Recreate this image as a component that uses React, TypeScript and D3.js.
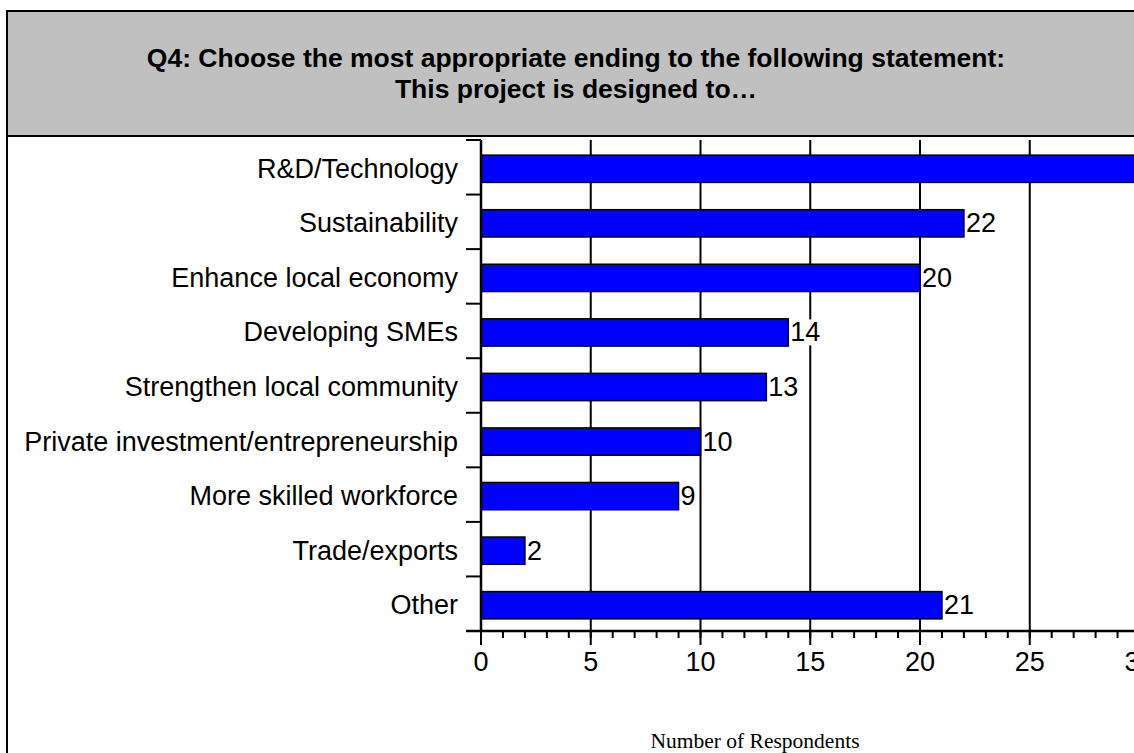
import React from "react";
import * as d3 from "d3";

const titleLines = [
  "Q4: Choose the most appropriate ending to the following statement:",
  "This project is designed to…",
];
const categories = [
  "R&D/Technology",
  "Sustainability",
  "Enhance local economy",
  "Developing SMEs",
  "Strengthen local community",
  "Private investment/entrepreneurship",
  "More skilled workforce",
  "Trade/exports",
  "Other",
];
const values = [31, 22, 20, 14, 13, 10, 9, 2, 21];
const majorTicks = [0, 5, 10, 15, 20, 25, 30];
const minorTicks = d3.range(0, 31, 1);
const xAxisTitle = "Number of Respondents";

const W = 1134;
const H = 753;
const SANS = "Arial, 'Liberation Sans', sans-serif";
const FS = 27;

export default function App() {
  const x = d3.scaleLinear().domain([0, 30]).range([481, 481 + 30 * 21.95]);
  const y = d3
    .scaleBand<string>()
    .domain(categories)
    .range([140, 631])
    .paddingInner(0.5)
    .paddingOuter(0.25);
  const step = y.step();
  const plotTop = 140;
  const plotBottom = 631;
  const boundaries = d3.range(0, categories.length + 1).map((i) => plotTop + i * step);
  const labelW = (v: number) => String(v).length * FS * 0.556 + 2;

  return (
    <svg
      width={W}
      height={H}
      style={{ position: "absolute", left: 0, top: 0, background: "#fff" }}
    >
      {/* header */}
      <rect x={7} y={11} width={1300} height={125} fill="#C0C0C0" />
      <line x1={7} x2={1300} y1={136} y2={136} stroke="#000" strokeWidth={2} />
      <rect x={7} y={11} width={1300} height={900} fill="none" stroke="#000" strokeWidth={2} />
      {titleLines.map((t, i) => (
        <text
          key={i}
          x={576}
          y={67 + i * 31}
          textAnchor="middle"
          fontFamily={SANS}
          fontWeight="bold"
          fontSize={26.5}
          fill="#000"
        >
          {t}
        </text>
      ))}

      {/* gridlines */}
      {majorTicks
        .filter((t) => t > 0)
        .map((t) => (
          <line
            key={"g" + t}
            x1={x(t)}
            x2={x(t)}
            y1={plotTop}
            y2={plotBottom}
            stroke="#000"
            strokeWidth={2}
          />
        ))}

      {/* bars */}
      {categories.map((c, i) => (
        <rect
          key={c}
          x={x(0)}
          y={(y(c) as number) + 1.5}
          width={x(values[i]) - x(0)}
          height={y.bandwidth()}
          fill="#0000FF"
          stroke="#000"
          strokeWidth={1.5}
        />
      ))}

      {/* value labels */}
      {categories.map((c, i) => {
        const cy = (y(c) as number) + 1.5 + y.bandwidth() / 2;
        return (
          <g key={"v" + c}>
            <rect
              x={x(values[i]) + 1.5}
              y={cy - 13}
              width={labelW(values[i])}
              height={26}
              fill="#fff"
            />
            <text
              x={x(values[i]) + 2}
              y={cy}
              dominantBaseline="central"
              fontFamily={SANS}
              fontSize={FS}
              fill="#000"
            >
              {values[i]}
            </text>
          </g>
        );
      })}

      {/* y axis */}
      <line x1={x(0)} x2={x(0)} y1={plotTop} y2={plotBottom} stroke="#000" strokeWidth={2.5} />
      {boundaries.map((b, i) => (
        <line key={"yt" + i} x1={466} x2={x(0)} y1={b} y2={b} stroke="#000" strokeWidth={2} />
      ))}
      {categories.map((c) => (
        <text
          key={"l" + c}
          x={458}
          y={(y(c) as number) + 1.5 + y.bandwidth() / 2}
          textAnchor="end"
          dominantBaseline="central"
          fontFamily={SANS}
          fontSize={FS}
          fill="#000"
        >
          {c}
        </text>
      ))}

      {/* x axis */}
      <line x1={466} x2={1300} y1={plotBottom} y2={plotBottom} stroke="#000" strokeWidth={2.5} />
      {minorTicks.map((t) => (
        <line
          key={"mt" + t}
          x1={x(t)}
          x2={x(t)}
          y1={plotBottom}
          y2={plotBottom + 7}
          stroke="#000"
          strokeWidth={2}
        />
      ))}
      {majorTicks.map((t) => (
        <line
          key={"Mt" + t}
          x1={x(t)}
          x2={x(t)}
          y1={plotBottom}
          y2={plotBottom + 14}
          stroke="#000"
          strokeWidth={2}
        />
      ))}
      {majorTicks.map((t) => (
        <text
          key={"tl" + t}
          x={x(t)}
          y={671}
          textAnchor="middle"
          fontFamily={SANS}
          fontSize={FS}
          fill="#000"
        >
          {t}
        </text>
      ))}
      <text
        x={755}
        y={748}
        textAnchor="middle"
        fontFamily="'Liberation Serif', 'DejaVu Serif', serif"
        fontSize={21.5}
        fill="#000"
      >
        {xAxisTitle}
      </text>
    </svg>
  );
}
